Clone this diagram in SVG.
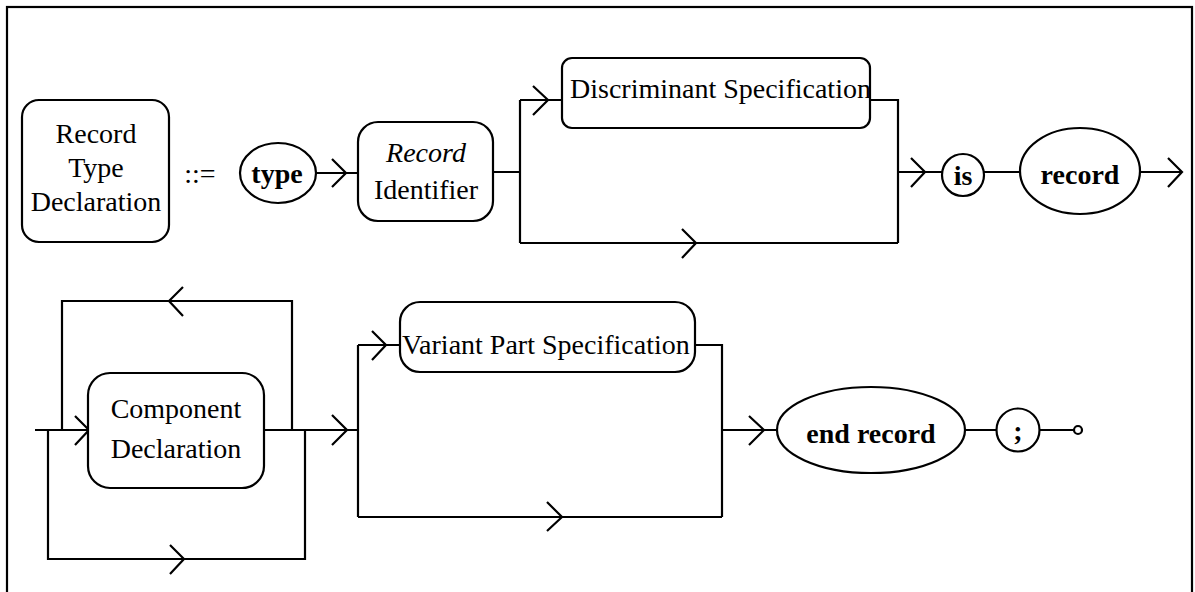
<svg xmlns="http://www.w3.org/2000/svg" width="1195" height="592" viewBox="0 0 1195 592">
<style>
.s{fill:none;stroke:#000;stroke-width:2.2}
.n{fill:#fff;stroke:#000;stroke-width:2.2}
.t{font-family:"Liberation Serif","Times New Roman",serif;font-size:28px;fill:#000}
.b{font-weight:bold}
.i{font-style:italic}
</style>
<rect x="0" y="0" width="1195" height="592" fill="#fff"/>
<rect class="s" x="7" y="7" width="1185" height="620"/>
<g id="connectors" class="s">
<path d="M316,173 H358"/><path d="M332,159 L346,173 L332,187"/>
<path d="M493,172 H520 M520,100 V243 M520,100 H562 M520,243 H898 M870,100 H898 V243 M898,172 H942"/>
<path d="M533,86 L548,100 L533,115"/>
<path d="M682,229 L696,243 L682,258"/>
<path d="M911,158 L925,172 L911,187"/>
<path d="M984,172 H1019"/>
<path d="M1140,172 H1182"/><path d="M1168,158 L1182,172 L1168,187"/>
<path d="M35,430 H88"/><path d="M75,416 L89,430 L75,445"/>
<path d="M62,430 V301 H292 V430"/><path d="M183,287 L169,301 L183,316"/>
<path d="M48,430 V559 H305 V430"/><path d="M170,545 L184,559 L170,574"/>
<path d="M264,430 H358 M358,345 V517 M358,345 H400 M358,517 H722 M695,345 H722 V517 M722,430 H777"/>
<path d="M332,415 L347,430 L332,445"/>
<path d="M372,331 L386,345 L372,360"/>
<path d="M547,502 L562,517 L547,531"/>
<path d="M749,416 L764,430 L749,445"/>
<path d="M965,430 H997 M1040,430 H1074"/>
</g>
<g id="n-rtd"><rect class="n" x="22" y="100" width="147" height="142" rx="17"/>
<text class="t" x="96" y="143" text-anchor="middle">Record</text>
<text class="t" x="96" y="177" text-anchor="middle">Type</text>
<text class="t" x="96" y="211" text-anchor="middle">Declaration</text></g>
<g id="n-def"><text class="t" x="200" y="183" text-anchor="middle">::=</text></g>
<g id="n-type"><ellipse class="n" cx="278" cy="173" rx="38" ry="30"/>
<text class="t b" x="277" y="183" text-anchor="middle">type</text></g>
<g id="n-rid"><rect class="n" x="358" y="122" width="135" height="99" rx="20"/>
<text class="t i" x="426" y="162" text-anchor="middle">Record</text>
<text class="t" x="426" y="199" text-anchor="middle">Identifier</text></g>
<g id="n-disc"><rect class="n" x="562" y="58" width="308" height="70" rx="10"/>
<text class="t" x="570" y="98">Discriminant Specification</text></g>
<g id="n-is"><circle class="n" cx="963" cy="175" r="21"/>
<text class="t b" x="963" y="185" text-anchor="middle">is</text></g>
<g id="n-record"><ellipse class="n" cx="1080" cy="171" rx="60" ry="43"/>
<text class="t b" x="1080" y="184" text-anchor="middle">record</text></g>
<g id="n-comp"><rect class="n" x="88" y="373" width="176" height="115" rx="22"/>
<text class="t" x="176" y="418" text-anchor="middle">Component</text>
<text class="t" x="176" y="458" text-anchor="middle">Declaration</text></g>
<g id="n-var"><rect class="n" x="400" y="302" width="295" height="70" rx="20"/>
<text class="t" x="402" y="354">Variant Part Specification</text></g>
<g id="n-end"><ellipse class="n" cx="871" cy="430" rx="94" ry="43"/>
<text class="t b" x="871" y="443" text-anchor="middle">end record</text></g>
<g id="n-semi"><circle class="n" cx="1018" cy="430" r="21.5"/>
<text class="t b" x="1018" y="440" text-anchor="middle">;</text></g>
<g id="n-stop"><circle class="n" cx="1078" cy="430" r="4"/></g>
</svg>
